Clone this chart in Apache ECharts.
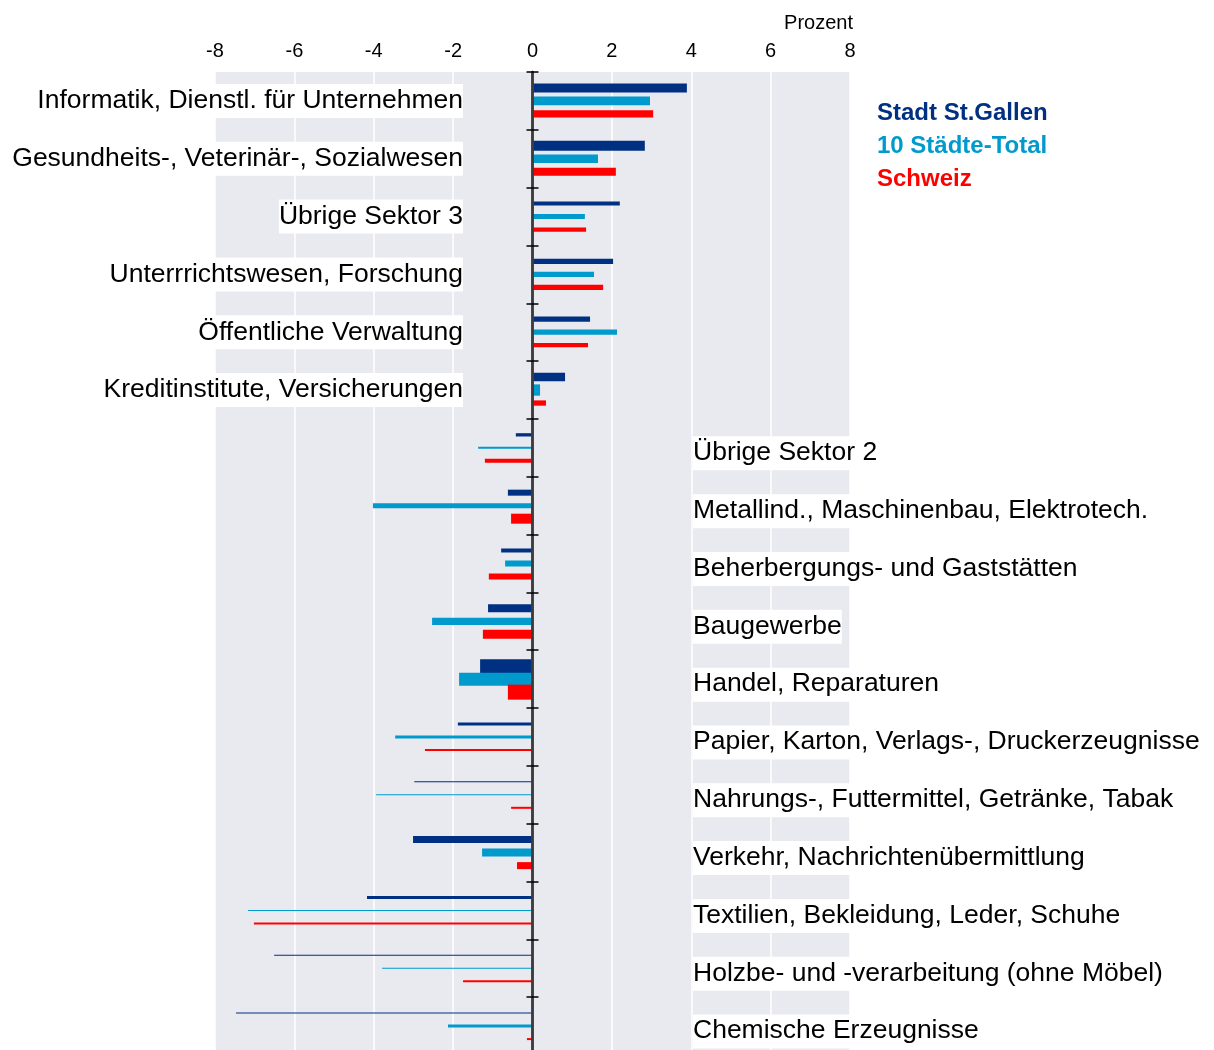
<!DOCTYPE html>
<html>
<head>
<meta charset="utf-8">
<script src="https://cdn.jsdelivr.net/npm/echarts@6/dist/echarts.min.js"></script>
<style>
html,body{margin:0;padding:0;background:#fff;}
#chart{width:1214px;height:1050px;}
</style>
</head>
<body>
<div id="chart"></div>
<script>
// Branchen (Kategorien)
var categories = [
  'Informatik, Dienstl. für Unternehmen',
  'Gesundheits-, Veterinär-, Sozialwesen',
  'Übrige Sektor 3',
  'Unterrrichtswesen, Forschung',
  'Öffentliche Verwaltung',
  'Kreditinstitute, Versicherungen',
  'Übrige Sektor 2',
  'Metallind., Maschinenbau, Elektrotech.',
  'Beherbergungs- und Gaststätten',
  'Baugewerbe',
  'Handel, Reparaturen',
  'Papier, Karton, Verlags-, Druckerzeugnisse',
  'Nahrungs-, Futtermittel, Getränke, Tabak',
  'Verkehr, Nachrichtenübermittlung',
  'Textilien, Bekleidung, Leder, Schuhe',
  'Holzbe- und -verarbeitung (ohne Möbel)',
  'Chemische Erzeugnisse'
];
var numLeftLabels = 6;

// Veränderung in Prozent
var stGallen = [3.89, 2.83, 2.20, 2.03, 1.45, 0.82, -0.42, -0.62, -0.79, -1.12, -1.32, -1.88, -2.98, -3.01, -4.17, -6.51, -7.47];
var staedte  = [2.96, 1.65, 1.32, 1.55, 2.13, 0.19, -1.37, -4.02, -0.69, -2.53, -1.85, -3.46, -3.94, -1.27, -7.17, -3.79, -2.13];
var schweiz  = [3.04, 2.10, 1.35, 1.78, 1.40, 0.34, -1.20, -0.54, -1.10, -1.25, -0.62, -2.71, -0.54, -0.39, -7.02, -1.75, -0.14];

// Beschäftigtenanteil (bestimmt die Balkendicke)
var shareStGallen = [9, 10, 4, 5.3, 5.3, 8.7, 3.3, 6, 4, 8, 14, 3, 1, 7, 3, 1, 1];
var shareStaedte  = [8.7, 8.7, 5, 5.3, 5.3, 11.3, 2, 5, 6, 7.3, 13, 3, 1, 8, 1, 1, 3];
var shareSchweiz  = [7.3, 8, 4.3, 5.3, 4.3, 5.3, 4, 10, 6, 9, 15, 2, 2, 7, 2, 2, 2];

var xTicks = [-8, -6, -4, -2, 0, 2, 4, 6, 8];
var seriesNames = ['Stadt St.Gallen', '10 Städte-Total', 'Schweiz'];
var colors = ['#003082', '#009ACD', '#FF0000'];
var FONT = '"Liberation Sans", Arial, Helvetica, sans-serif';

function buildData(vals, shares) {
  return vals.map(function (v, i) { return [v, i, shares[i]]; });
}

function makeSeries(name, vals, shares, color, offsetFrac) {
  return {
    type: 'custom',
    name: name,
    z: 2,
    encode: { x: 0, y: 1 },
    data: buildData(vals, shares),
    itemStyle: { color: color },
    renderItem: function (params, api) {
      var v = api.value(0), c = api.value(1), s = api.value(2);
      var p0 = api.coord([0, c]);
      var p1 = api.coord([v, c]);
      var band = api.size([0, 1])[1];
      var cy = p0[1] + offsetFrac * band;
      var h = Math.max(1, s * band / 57.8);
      return {
        type: 'rect',
        shape: { x: Math.min(p0[0], p1[0]), y: cy - h / 2, width: Math.abs(p1[0] - p0[0]), height: h },
        style: { fill: color }
      };
    }
  };
}

var chart = echarts.init(document.getElementById('chart'), null, { renderer: 'canvas' });

var option = {
  backgroundColor: '#ffffff',
  animation: false,
  textStyle: { fontFamily: FONT },
  title: {
    text: 'Prozent',
    right: 356,
    top: 8,
    textStyle: { fontFamily: FONT, fontSize: 20, fontWeight: 'normal', color: '#000' }
  },
  legend: {
    orient: 'vertical',
    left: 867,
    top: 96,
    selectedMode: false,
    icon: 'none',
    itemWidth: 0,
    itemHeight: 14,
    itemGap: 9,
    data: seriesNames.map(function (n, i) {
      return { name: n, textStyle: { color: colors[i] } };
    }),
    textStyle: { fontFamily: FONT, fontSize: 24, fontWeight: 'bold' }
  },
  grid: {
    left: 215,
    right: 364,
    top: 72,
    height: 983,
    show: true,
    backgroundColor: '#E9E9F0',
    borderWidth: 0,
    outerBoundsMode: 'none'
  },
  xAxis: {
    type: 'value',
    position: 'top',
    min: xTicks[0],
    max: xTicks[xTicks.length - 1],
    interval: 2,
    axisLine: { show: false },
    axisTick: { show: false },
    splitLine: { show: true, lineStyle: { color: '#ffffff', width: 1.5 } },
    axisLabel: { fontFamily: FONT, fontSize: 20, color: '#000', margin: 11 }
  },
  yAxis: [
    {
      type: 'category',
      data: categories,
      inverse: true,
      position: 'left',
      z: 10,
      axisLine: { show: true, onZero: true, onZeroAxisIndex: 0, lineStyle: { color: '#3c3c3c', width: 2.5 } },
      axisTick: { show: true, length: 6, interval: 0, lineStyle: { color: '#000', width: 1.5 } },
      axisLabel: {
        interval: 0,
        margin: -248,
        fontFamily: FONT,
        fontSize: 26.5,
        color: '#000',
        backgroundColor: '#ffffff',
        padding: [3, 0, 4, 0],
        formatter: function (val, idx) { return idx < numLeftLabels ? val : ''; }
      }
    },
    {
      type: 'category',
      data: categories,
      inverse: true,
      position: 'right',
      z: 10,
      axisLine: { show: true, onZero: true, onZeroAxisIndex: 0, lineStyle: { color: '#3c3c3c', width: 2.5 } },
      axisTick: { show: true, length: 6, interval: 0, lineStyle: { color: '#000', width: 1.5 } },
      axisLabel: {
        interval: 0,
        margin: -157,
        align: 'left',
        color: '#000',
        padding: [11, 0, 0, 0],
        formatter: function (val, idx) { return idx >= numLeftLabels ? '{a|' + val + '}' : ''; },
        rich: {
          a: {
            fontFamily: FONT,
            fontSize: 26.5,
            color: '#000',
            backgroundColor: '#ffffff',
            padding: [3, 0, 4, 0]
          }
        }
      }
    }
  ],
  series: [
    makeSeries(seriesNames[0], stGallen, shareStGallen, colors[0], -0.225),
    makeSeries(seriesNames[1], staedte, shareStaedte, colors[1], 0),
    makeSeries(seriesNames[2], schweiz, shareSchweiz, colors[2], 0.225)
  ]
};

chart.setOption(option);
</script>
</body>
</html>
